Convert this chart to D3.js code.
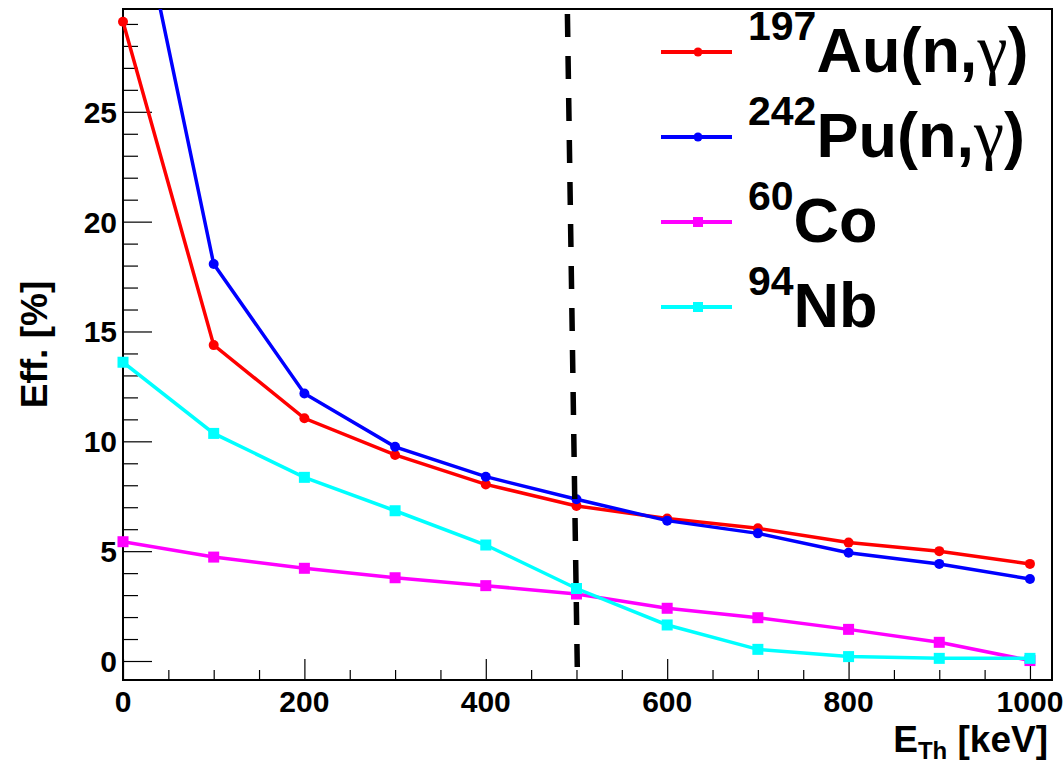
<!DOCTYPE html>
<html>
<head>
<meta charset="utf-8">
<script src="https://cdn.jsdelivr.net/npm/d3@7"></script>
<style>
  body { margin: 0; background: #fff; }
  svg { display: block; font-family: "Liberation Sans", Arial, sans-serif; font-weight: bold; }
</style>
</head>
<body>
<script>
// threshold energies and efficiencies
const energies = [0, 100, 200, 300, 400, 500, 600, 700, 800, 900, 1000]
const au197 = [29.1, 14.38, 11.05, 9.38, 8.04, 7.06, 6.49, 6.04, 5.39, 5.0, 4.42]
const pu242 = [37.8, 18.07, 12.18, 9.75, 8.39, 7.36, 6.39, 5.81, 4.93, 4.42, 3.73]
const co60 = [5.43, 4.73, 4.22, 3.79, 3.43, 3.05, 2.4, 1.97, 1.44, 0.85, 0.02]
const nb94 = [13.6, 10.36, 8.36, 6.84, 5.28, 3.3, 1.64, 0.53, 0.2, 0.12, 0.12]

const xTicks = [0, 200, 400, 600, 800, 1000]
const yTicks = [0, 5, 10, 15, 20, 25]
const cutX = [490, 501]
const cutY = [29.45, -0.6]

const series = [
  { mass: '197', name: 'Au(n,', gamma: true, values: au197, color: '#ff0000', shape: 'circle' },
  { mass: '242', name: 'Pu(n,', gamma: true, values: pu242, color: '#0000ff', shape: 'circle' },
  { mass: '60', name: 'Co', gamma: false, values: co60, color: '#ff00ff', shape: 'square' },
  { mass: '94', name: 'Nb', gamma: false, values: nb94, color: '#00ffff', shape: 'square' }
]

const width = 1064, height = 764
const fLeft = 123, fRight = 1052, fTop = 9, fBottom = 680

let svg = d3.select('body')
  .append('svg')
  .attr('width', width)
  .attr('height', height)

let x = d3.scaleLinear().domain([0, 1024.3]).range([fLeft, fRight])
let y = d3.scaleLinear().domain([-0.865, 29.68]).range([fBottom, fTop])

svg.append('clipPath')
  .attr('id', 'frame')
  .append('rect')
  .attr('x', fLeft).attr('y', fTop)
  .attr('width', fRight - fLeft).attr('height', fBottom - fTop)

// x axis ticks
let xAxis = svg.append('g')
  .attr('transform', `translate(0,${fBottom})`)
xAxis.call(d3.axisBottom(x).tickValues(d3.range(0, 1001, 50)).tickSize(-10).tickFormat(''))
xAxis.selectAll('.tick line')
  .attr('y2', d => d % 200 === 0 ? -21 : -10)
  .attr('stroke', '#000')
  .attr('stroke-width', 1.2)
xAxis.select('.domain').remove()

svg.append('g')
  .selectAll('text')
  .data(xTicks)
  .join('text')
  .attr('x', d => x(d))
  .attr('y', 712)
  .attr('text-anchor', 'middle')
  .attr('font-size', 30)
  .text(d => d)

// y axis ticks
let yAxis = svg.append('g')
  .attr('transform', `translate(${fLeft},0)`)
yAxis.call(d3.axisLeft(y).tickValues(d3.range(0, 30, 1)).tickSize(-15).tickFormat(''))
yAxis.selectAll('.tick line')
  .attr('x2', d => d % 5 === 0 ? 29 : 15)
  .attr('stroke', '#000')
  .attr('stroke-width', 1.2)
yAxis.select('.domain').remove()

svg.append('g')
  .selectAll('text')
  .data(yTicks)
  .join('text')
  .attr('x', 117)
  .attr('y', d => y(d) + 11)
  .attr('text-anchor', 'end')
  .attr('font-size', 30)
  .text(d => d)

// frame
svg.append('rect')
  .attr('x', fLeft).attr('y', fTop)
  .attr('width', fRight - fLeft).attr('height', fBottom - fTop)
  .attr('fill', 'none')
  .attr('stroke', '#000')
  .attr('stroke-width', 2)

// axis titles
let xt = svg.append('text')
  .attr('x', 1048)
  .attr('y', 752)
  .attr('text-anchor', 'end')
  .attr('font-size', 37)
xt.append('tspan').text('E')
xt.append('tspan').attr('font-size', 24).attr('dy', 7).text('Th')
xt.append('tspan').attr('dy', -7).text(' [keV]')

svg.append('text')
  .attr('transform', `translate(47,${(fTop + fBottom) / 2}) rotate(-90)`)
  .attr('text-anchor', 'middle')
  .attr('font-size', 37)
  .text('Eff. [%]')

// series
let line = d3.line()
  .x((d, i) => x(energies[i]))
  .y(d => y(d))

let plot = svg.append('g')

series.forEach(s => {
  plot.append('path')
    .datum(s.values)
    .attr('clip-path', 'url(#frame)')
    .attr('fill', 'none')
    .attr('stroke', s.color)
    .attr('stroke-width', 3.5)
    .attr('d', line)

  let pts = s.values
    .map((v, i) => ({ e: energies[i], v: v }))
    .filter(p => p.v <= y.domain()[1])

  if (s.shape === 'circle') {
    plot.selectAll(null)
      .data(pts)
      .join('circle')
      .attr('cx', p => x(p.e))
      .attr('cy', p => y(p.v))
      .attr('r', 5)
      .attr('fill', s.color)
  } else {
    plot.selectAll(null)
      .data(pts)
      .join('rect')
      .attr('x', p => x(p.e) - 5.5)
      .attr('y', p => y(p.v) - 5.5)
      .attr('width', 11)
      .attr('height', 11)
      .attr('fill', s.color)
  }
})

// threshold line
svg.append('line')
  .attr('x1', x(cutX[0])).attr('y1', y(cutY[0]))
  .attr('x2', x(cutX[1])).attr('y2', y(cutY[1]))
  .attr('stroke', '#000')
  .attr('stroke-width', 5.5)
  .attr('stroke-dasharray', '23,19')

// legend
let legend = svg.append('g')

series.forEach((s, i) => {
  let base = 72 + i * 85
  let ly = base - 20
  legend.append('line')
    .attr('x1', 661).attr('x2', 732)
    .attr('y1', ly).attr('y2', ly)
    .attr('stroke', s.color)
    .attr('stroke-width', 4)
  if (s.shape === 'circle') {
    legend.append('circle')
      .attr('cx', 698).attr('cy', ly).attr('r', 4.5).attr('fill', s.color)
  } else {
    legend.append('rect')
      .attr('x', 693).attr('y', ly - 5).attr('width', 10).attr('height', 10).attr('fill', s.color)
  }
  let t = legend.append('text')
    .attr('x', 748)
    .attr('y', base)
    .attr('font-size', 63)
  t.append('tspan').attr('font-size', 41).attr('dy', -32).text(s.mass)
  t.append('tspan').attr('dy', 32).text(s.name)
  if (s.gamma) {
    t.append('tspan')
      .attr('font-family', '"Liberation Serif", serif')
      .attr('font-weight', 'normal')
      .attr('font-size', 68)
      .text('γ')
    t.append('tspan').text(')')
  }
})
</script>
</body>
</html>
